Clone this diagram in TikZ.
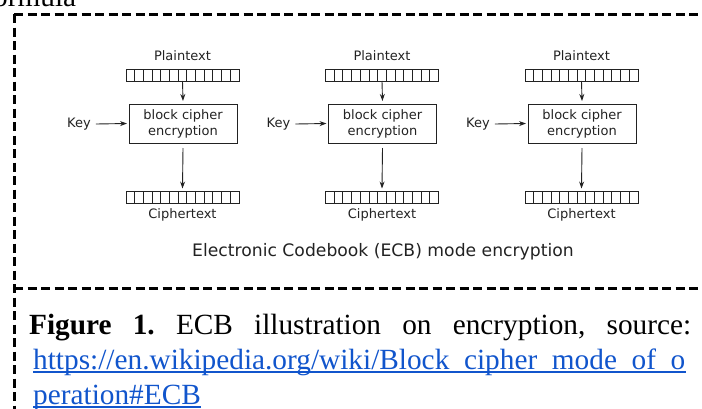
\documentclass[tikz,border=0pt]{standalone}
\usepackage{fontspec}
\setmainfont{Liberation Serif}
\newfontfamily\diagfont{DejaVu Sans}
\usetikzlibrary{arrows.meta, positioning, calc}
\definecolor{linkblue}{HTML}{1155CC}
\definecolor{inkgray}{HTML}{222222}
\tikzset{
    frameline/.style={line width=3pt, dash pattern=on 9pt off 4.5pt},
    cellbar/.style={draw=inkgray, line width=0.9pt, minimum width=113pt, minimum height=12pt, inner sep=0pt, outer sep=0pt},
    cellline/.style={draw=inkgray, line width=0.9pt},
    cipherbox/.style={draw=inkgray, line width=0.9pt, minimum width=108pt, minimum height=39pt, inner sep=0pt, outer sep=0pt,
        align=center, text=inkgray, font=\diagfont\fontsize{13}{16}\selectfont},
    smalllabel/.style={inner sep=0pt, text=inkgray, font=\diagfont\fontsize{13}{15}\selectfont},
    flow/.style={draw=inkgray, line width=0.9pt, -{Stealth[length=7pt, width=5pt]}},
    captext/.style={anchor=base west, inner sep=0pt, font=\fontsize{29.3}{35}\selectfont}
}

\begin{document}
\frenchspacing
\begin{tikzpicture}[x=1pt, y=-1pt]
    \useasboundingbox (0,0) rectangle (702,408);
    \clip (0,0) rectangle (702,408);

    % ---------------- text above the frame ----------------
    \node[captext] (prevWord) at (-7,6) {ormula};

    % ---------------- dashed frame ----------------
    \coordinate (frameCorner) at (14,14);
    \coordinate (frameMid) at (14,288);
    \draw[frameline] (frameCorner) -- (720,14);
    \draw[frameline] (frameCorner) -- (14,420);
    \draw[frameline] (frameMid) -- (720,288);

    % ---------------- three ECB blocks ----------------
    \foreach \b in {0,1,2} {
        \begin{scope}[xshift=\b*199.5pt]
            \node[smalllabel] (plainLabel\b) at (182.5,56) {Plaintext};
            \node[cellbar] (plainBar\b) at (182.5,75) {};
            \node[cipherbox] (encBox\b) at (183,123.5) {block cipher\\encryption};
            \node[cellbar] (cipherBar\b) at (182.5,197.5) {};
            \node[smalllabel] (cipherLabel\b) at (182.5,215) {Ciphertext};
            \node[smalllabel] (keyLabel\b) at (79,124) {Key};

            % Cell separators
            \foreach \k in {1,...,12} {
                \draw[cellline] ($(plainBar\b.south west)!\k/13!(plainBar\b.south east)$)
                    -- ($(plainBar\b.north west)!\k/13!(plainBar\b.north east)$);
                \draw[cellline] ($(cipherBar\b.south west)!\k/13!(cipherBar\b.south east)$)
                    -- ($(cipherBar\b.north west)!\k/13!(cipherBar\b.north east)$);
            }

            % Arrows
            \draw[flow] (plainBar\b.south) -- ([yshift=3pt]encBox\b.north);
            \draw[flow] ([yshift=-5pt]encBox\b.south) -- ([yshift=3pt]cipherBar\b.north);
            \draw[flow] ([xshift=5pt]keyLabel\b.east) -- ([xshift=-2pt]encBox\b.west);
        \end{scope}
    }

    \node[inner sep=0pt, text=inkgray, font=\diagfont\fontsize{17.2}{19}\selectfont] (modeTitle) at (383,252)
        {Electronic Codebook (ECB) mode encryption};

    % ---------------- caption ----------------
    \node[captext] (capLineOne) at (29,334)
        {\makebox[662pt][s]{\textbf{Figure 1.} ECB illustration on encryption, source:}};
    \node[captext, text=linkblue] (capLineTwo) at (33,369)
        {https://en.wikipedia.org/wiki/Block\_cipher\_mode\_of\_o};
    \node[captext, text=linkblue] (capLineThree) at (33,404) {peration\#ECB};
    \draw[linkblue, line width=1.8pt] ([yshift=-3pt]capLineTwo.base west) -- ([yshift=-3pt]capLineTwo.base east);
    \draw[linkblue, line width=1.8pt] ([yshift=-3pt]capLineThree.base west) -- ([yshift=-3pt]capLineThree.base east);
\end{tikzpicture}
\end{document}
